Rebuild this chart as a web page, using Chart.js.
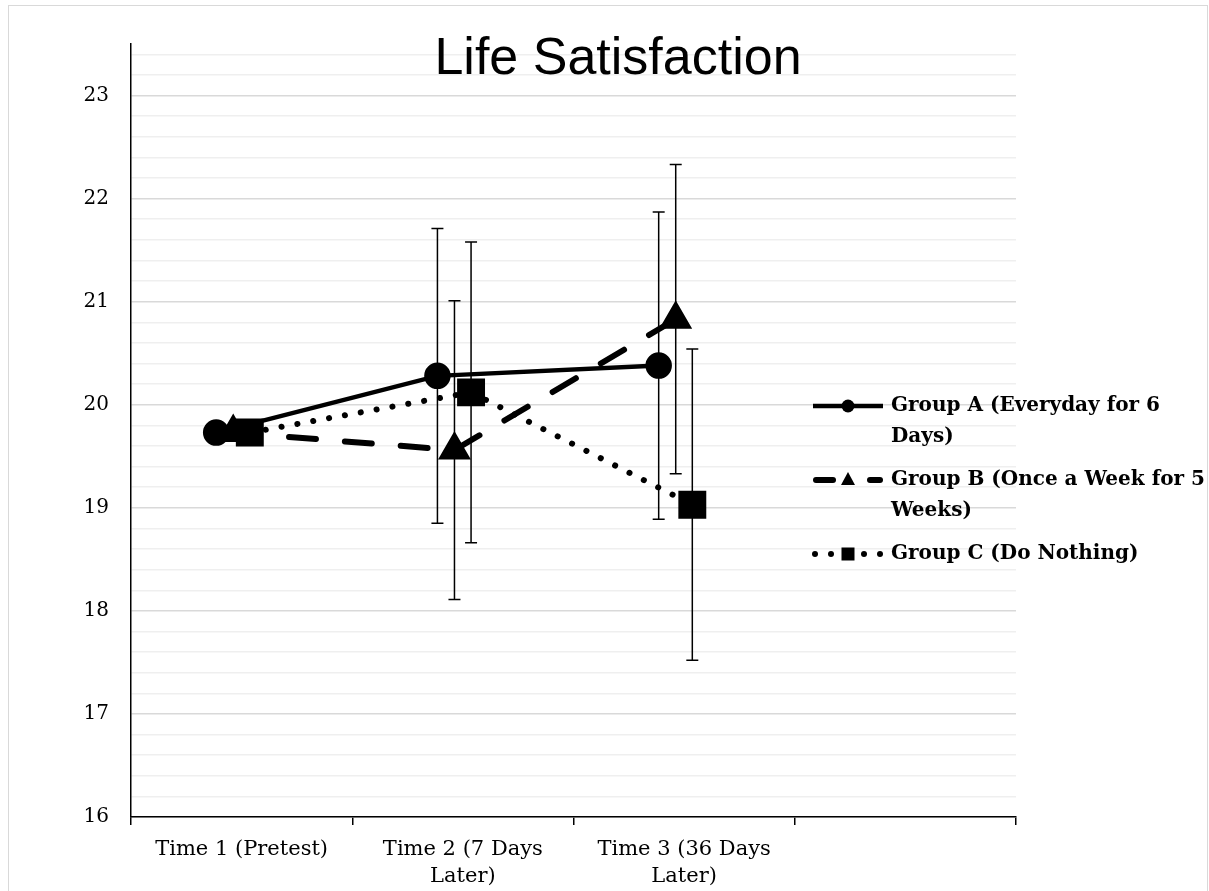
<!DOCTYPE html>
<html>
<head>
<meta charset="utf-8">
<title>Life Satisfaction</title>
<script src="https://cdn.jsdelivr.net/npm/chart.js@4/dist/chart.umd.min.js"></script>
<style>
  html, body { margin: 0; padding: 0; background: #fff; }
  #wrap { position: relative; width: 1209px; height: 891px; overflow: hidden; }
  #frame { position: absolute; left: 8px; top: 5px; width: 1200px; height: 910px; border: 1px solid #d9d9d9; box-sizing: border-box; }
  #chart { position: absolute; left: 0; top: 0; }
</style>
</head>
<body>
<div id="wrap">
  <div id="frame"></div>
  <canvas id="chart" width="1209" height="891"></canvas>
</div>
<script>
"use strict";

// ── data ────────────────────────────────────────────
const CATEGORIES = ["Time 1 (Pretest)", ["Time 2 (7 Days", "Later)"], ["Time 3 (36 Days", "Later)"], ""];
const SERIES_NAMES = ["Group A (Everyday for 6 Days)", "Group B (Once a Week for 5 Weeks)", "Group C (Do Nothing)"];
const GROUP_A = [19.73, 20.28, 20.38];
const GROUP_B = [19.73, 19.56, 20.83];
const GROUP_C = [19.73, 20.12, 19.03];
const ERR_A = [0, 1.43, 1.49];
const ERR_B = [0, 1.45, 1.50];
const ERR_C = [0, 1.46, 1.51];
const X_SHIFT = [-0.115, -0.038, 0.037]; // 계열별 가로 어긋남 (category 단위)
const Y_MIN = 16, Y_MAX = 23.5, Y_MINOR = 0.2;
const Y_LABELS = [16, 17, 18, 19, 20, 21, 22, 23];

const SERIF = "'DejaVu Serif', serif";

function points(values, shift) {
  return values.map((v, i) => ({ x: i + shift, y: v }));
}

// ── error bars ──────────────────────────────────────
const errorBars = {
  id: "errorBars",
  afterDatasetsDraw(chart) {
    const { ctx } = chart;
    const xs = chart.scales.xv, ys = chart.scales.y;
    ctx.save();
    ctx.strokeStyle = "#000";
    ctx.lineWidth = 1.5;
    chart.data.datasets.forEach((ds) => {
      ds.data.forEach((p, i) => {
        const e = ds.errors[i];
        if (!e) return;
        const x = xs.getPixelForValue(p.x);
        const top = ys.getPixelForValue(p.y + e);
        const bot = ys.getPixelForValue(p.y - e);
        ctx.beginPath();
        ctx.moveTo(x, top); ctx.lineTo(x, bot);
        ctx.moveTo(x - 6, top); ctx.lineTo(x + 6, top);
        ctx.moveTo(x - 6, bot); ctx.lineTo(x + 6, bot);
        ctx.stroke();
      });
    });
    ctx.restore();
  },
};

// ── title ───────────────────────────────────────────
const titlePlugin = {
  id: "bigTitle",
  afterDraw(chart) {
    const ctx = chart.ctx;
    ctx.save();
    ctx.fillStyle = "#000";
    ctx.font = "52px 'Liberation Sans', Arial, sans-serif";
    ctx.textAlign = "center";
    ctx.textBaseline = "alphabetic";
    ctx.fillText("Life Satisfaction", 618, 74);
    ctx.restore();
  },
};

// ── legend (오른쪽, 줄바꿈 포함) ─────────────────────
function wrap(ctx, text, maxW) {
  const words = text.split(" ");
  const lines = [];
  let cur = "";
  for (const w of words) {
    const t = cur ? cur + " " + w : w;
    if (ctx.measureText(t).width > maxW && cur) { lines.push(cur); cur = w; }
    else cur = t;
  }
  if (cur) lines.push(cur);
  return lines;
}

const legendPlugin = {
  id: "sideLegend",
  afterDraw(chart) {
    const ctx = chart.ctx;
    const x0 = 813, x1 = 883, mx = 848, tx = 891;
    const lineH = 31;
    let y = 406;
    ctx.save();
    ctx.font = "bold 20px " + SERIF;
    chart.data.datasets.forEach((ds) => {
      ctx.strokeStyle = "#000";
      ctx.fillStyle = "#000";
      ctx.lineCap = "round";
      ctx.lineWidth = ds.borderWidth;
      if (ds.pointStyle === "circle") {
        ctx.setLineDash([]);
        ctx.lineCap = "butt";
        ctx.beginPath(); ctx.moveTo(x0, y); ctx.lineTo(x1, y); ctx.stroke();
        ctx.beginPath(); ctx.arc(mx, y, 6.5, 0, Math.PI * 2); ctx.fill();
      } else if (ds.pointStyle === "triangle") {
        ctx.setLineDash([]);
        ctx.beginPath(); ctx.moveTo(x0 + 3, y); ctx.lineTo(x0 + 20, y); ctx.stroke();
        ctx.beginPath(); ctx.moveTo(x1 - 13, y); ctx.lineTo(x1 - 3, y); ctx.stroke();
        ctx.beginPath();
        ctx.moveTo(mx, y - 8); ctx.lineTo(mx + 7, y + 5); ctx.lineTo(mx - 7, y + 5);
        ctx.closePath(); ctx.fill();
      } else {
        for (const dx of [-33, -17, 16, 32]) {
          ctx.beginPath(); ctx.arc(mx + dx, y, 3, 0, Math.PI * 2); ctx.fill();
        }
        ctx.fillRect(mx - 6.5, y - 6.5, 13, 13);
      }
      ctx.textAlign = "left";
      ctx.textBaseline = "middle";
      const lines = wrap(ctx, ds.label, 318);
      lines.forEach((ln, i) => ctx.fillText(ln, tx, y + i * lineH));
      y += lines.length * lineH + 12;
    });
    ctx.restore();
  },
};

// ── chart ───────────────────────────────────────────
const isInt = (v) => Math.abs(v - Math.round(v)) < 1e-6;

new Chart(document.getElementById("chart"), {
  type: "line",
  data: {
    labels: CATEGORIES,
    datasets: [
      {
        label: SERIES_NAMES[0], data: points(GROUP_A, X_SHIFT[0]), errors: ERR_A,
        borderColor: "#000", backgroundColor: "#000", borderWidth: 4.5,
        pointStyle: "circle", pointRadius: 11, order: 3, xAxisID: "xv",
      },
      {
        label: SERIES_NAMES[1], data: points(GROUP_B, X_SHIFT[1]), errors: ERR_B,
        borderColor: "#000", backgroundColor: "#000", borderWidth: 6,
        borderDash: [27, 29], borderCapStyle: "round",
        pointStyle: "triangle", pointRadius: 13, order: 2, xAxisID: "xv",
      },
      {
        label: SERIES_NAMES[2], data: points(GROUP_C, X_SHIFT[2]), errors: ERR_C,
        borderColor: "#000", backgroundColor: "#000", borderWidth: 6,
        borderDash: [0.1, 16], borderCapStyle: "round",
        pointStyle: "rect", pointRadius: 15.5, order: 1, xAxisID: "xv",
      },
    ],
  },
  options: {
    responsive: false,
    animation: false,
    events: [],
    layout: { padding: { top: 44, right: 193, left: 0, bottom: 0 } },
    plugins: { legend: { display: false }, tooltip: { enabled: false } },
    scales: {
      x: {
        type: "category",
        offset: true,
        afterFit: (s) => { s.height = 74; },
        grid: { offset: true, drawOnChartArea: false, drawTicks: true, tickLength: 8, color: "#000", lineWidth: 1.5 },
        border: { color: "#000", width: 1.5 },
        ticks: { color: "#000", font: { family: SERIF, size: 21, lineHeight: 1.3 }, maxRotation: 0, autoSkip: false, padding: 11 },
      },
      xv: { type: "linear", display: false, min: -0.5, max: 3.5 },
      y: {
        min: Y_MIN, max: Y_MAX,
        afterFit: (s) => { s.width = 131; },
        afterBuildTicks: (s) => {
          const ticks = [];
          for (let v = Y_MIN; v < Y_MAX - 1e-6; v += Y_MINOR) ticks.push({ value: Math.round(v * 10) / 10 });
          s.ticks = ticks;
        },
        grid: {
          drawTicks: false,
          color: (c) => (isInt(c.tick.value) ? "#d9d9d9" : "#efefef"),
          lineWidth: 1.5,
        },
        border: { color: "#000", width: 1.5 },
        ticks: {
          color: "#000", padding: 22, autoSkip: false,
          font: { family: SERIF, size: 20 },
          callback: (v) => (Y_LABELS.includes(Math.round(v * 10) / 10) ? String(v) : ""),
        },
      },
    },
  },
  plugins: [errorBars, titlePlugin, legendPlugin],
});
</script>
</body>
</html>
